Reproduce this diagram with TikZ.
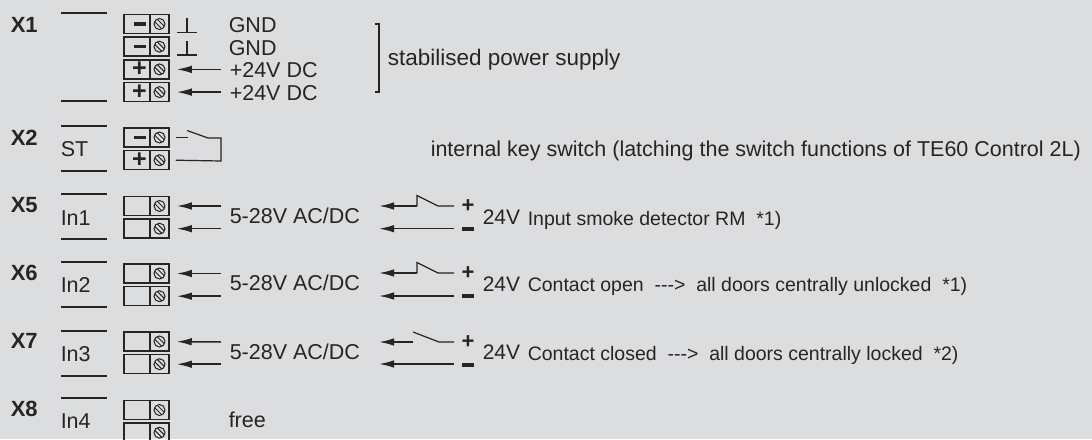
\documentclass[tikz,border=0pt]{standalone}
\usepackage{fontspec}
\setmainfont{Liberation Sans}
\usetikzlibrary{arrows.meta}
\definecolor{bg}{RGB}{220,221,223}
\definecolor{ink}{RGB}{38,36,37}

\begin{document}
\begin{tikzpicture}[x=1pt,y=-1pt,line width=1.5pt,color=ink,
  tl/.style={draw,minimum width=26pt,minimum height=19pt,inner sep=0pt,font=\fontsize{25}{25}\selectfont\bfseries},
  sc/.style={draw,minimum width=19pt,minimum height=19pt,inner sep=0pt,
    path picture={\draw[line width=1pt] (path picture bounding box.center) circle (5.5pt);
      \draw[line width=1pt] ([shift={(-2.4pt,4.9pt)}]path picture bounding box.center) -- ([shift={(4.9pt,-2.4pt)}]path picture bounding box.center)
        ([shift={(-4.9pt,2.4pt)}]path picture bounding box.center) -- ([shift={(2.4pt,-4.9pt)}]path picture bounding box.center);}},
  lab/.style={anchor=base west,inner sep=0pt,font=\fontsize{22}{22}\selectfont\bfseries},
  sig/.style={anchor=base west,inner sep=0pt,font=\fontsize{21.5}{22}\selectfont},
  txt/.style={anchor=base west,inner sep=0pt,font=\fontsize{19.5}{20}\selectfont},
  ar/.style={-{Latex[length=15pt,width=7.5pt]}}]
\fill[bg] (0,0) rectangle (1092,439);
\useasboundingbox (0,0) rectangle (1092,439);

% X1
\node[lab] (L1) at (10,32.3) {X1};
\draw (61,13) -- (107,13) (61,101) -- (107,101);
\draw (137,24) node[tl] (T11) {\hspace*{5pt}\rule{12pt}{3.5pt}} +(22.5,0) node[sc] (S11) {};
\draw (137,46.7) node[tl] (T12) {\hspace*{5pt}\rule{12pt}{3.5pt}} +(22.5,0) node[sc] (S12) {};
\draw (137,69.4) node[tl] (T13) {\hspace*{5pt}+} +(22.5,0) node[sc] (S13) {};
\draw (137,92.1) node[tl] (T14) {\hspace*{5pt}+} +(22.5,0) node[sc] (S14) {};
\draw[line width=1.2pt] (187,18.3) -- (187,32.3) (177,32.3) -- (197,32.3);
\draw[line width=1.2pt] (187,41) -- (187,55) (177,55) -- (197,55);
\coordinate (A13) at (221,69.4);
\coordinate (A14) at (221,92.1);
\draw[ar,shorten >=7pt] (A13) -- (S13);
\draw[ar,shorten >=7pt] (A14) -- (S14);
\node[sig] (G11) at (228,32.3) {GND};
\node[sig] (G12) at (228,55) {GND};
\node[sig] (G13) at (229,77.7) {+24V DC};
\node[sig] (G14) at (229,100.4) {+24V DC};
\draw[line width=1.2pt] (375,24) -- (379,24) -- (379,92) -- (375,92);
\node[txt,font=\fontsize{22.5}{23}\selectfont] (PS) at (387,65) {stabilised power supply};

% X2
\node[lab] (L2) at (10,145) {X2};
\draw (61,126) -- (107,126) (61,171) -- (107,171);
\node[sig] (ST) at (60,156.7) {ST};
\draw (137,137.5) node[tl] (T21) {\hspace*{5pt}\rule{12pt}{3.5pt}} +(22.5,0) node[sc] (S21) {};
\draw (137,160.2) node[tl] (T22) {\hspace*{5pt}+} +(22.5,0) node[sc] (S22) {};
\draw[line width=1.2pt] ([xshift=6pt]S21.east) -- ++(12,0);
\draw[line width=1.2pt] (187,130.5) -- (208,138) -- (221,138) -- (221,161) -- ([xshift=6pt]S22.east);
\node[txt,font=\fontsize{21.5}{22}\selectfont] (KS) at (430,156) {internal key switch (latching the switch functions of TE60 Control 2L)};

% X5
\node[lab] (L5) at (10,212.7) {X5};
\draw (61,194) -- (107,194) (61,239) -- (107,239);
\node[sig] (I1) at (60,225) {In1};
\draw (137,206) node[tl] (T51) {} +(22.5,0) node[sc] (S51) {};
\draw (137,228.7) node[tl] (T52) {} +(22.5,0) node[sc] (S52) {};
\coordinate (A51) at (221,206);
\coordinate (A52) at (221,228.7);
\draw[ar,shorten >=7pt] (A51) -- (S51);
\draw[ar,shorten >=7pt] (A52) -- (S52);
\node[sig] (V5) at (229,223.3) {5-28V AC/DC};
\coordinate (W51) at (454,206);
\coordinate (B51) at (417,206);
\coordinate (E51) at (379,206);
\coordinate (W52) at (454,228.7);
\coordinate (E52) at (379,228.7);
\draw[line width=1.2pt] (W51) -- (438,206) -- (417,195.5) -- (B51);
\draw[ar] (B51) -- (E51);
\draw[ar] (W52) -- (E52);
\node[inner sep=0pt,font=\fontsize{22}{22}\selectfont\bfseries] (P5) at (468,206) {+};
\node[inner sep=0pt] (M5) at (468,228.7) {\rule{12pt}{4pt}};
\node[sig,font=\fontsize{21}{22}\selectfont] (U5) at (482,224) {24V};
\node[txt] (D5) at (527,225) {Input smoke detector RM\ \ *1)};

% X6
\node[lab] (L6) at (10,280) {X6};
\draw (61,262) -- (107,262) (61,307) -- (107,307);
\node[sig] (I2) at (60,292.7) {In2};
\draw (137,273.5) node[tl] (T61) {} +(22.5,0) node[sc] (S61) {};
\draw (137,296.2) node[tl] (T62) {} +(22.5,0) node[sc] (S62) {};
\coordinate (A61) at (221,273.5);
\coordinate (A62) at (221,296.2);
\draw[ar,shorten >=7pt] (A61) -- (S61);
\draw[ar,shorten >=7pt] (A62) -- (S62);
\node[sig] (V6) at (229,290) {5-28V AC/DC};
\coordinate (W61) at (454,273);
\coordinate (B61) at (417,273);
\coordinate (E61) at (379,273);
\coordinate (W62) at (454,296);
\coordinate (E62) at (379,296);
\draw[line width=1.2pt] (W61) -- (438,273) -- (417,262.5) -- (B61);
\draw[ar] (B61) -- (E61);
\draw[ar] (W62) -- (E62);
\node[inner sep=0pt,font=\fontsize{22}{22}\selectfont\bfseries] (P6) at (468,273) {+};
\node[inner sep=0pt] (M6) at (468,296) {\rule{12pt}{4pt}};
\node[sig,font=\fontsize{21}{22}\selectfont] (U6) at (482,291) {24V};
\node[txt] (D6) at (527,291.7) {Contact open\ \ {-}{-}{-}>\ \ all doors centrally unlocked\ \ *1)};

% X7
\node[lab] (L7) at (10,348) {X7};
\draw (61,331) -- (107,331) (61,376) -- (107,376);
\node[sig] (I3) at (60,361) {In3};
\draw (137,341.5) node[tl] (T71) {} +(22.5,0) node[sc] (S71) {};
\draw (137,364.2) node[tl] (T72) {} +(22.5,0) node[sc] (S72) {};
\coordinate (A71) at (221,342);
\coordinate (A72) at (221,364.2);
\draw[ar,shorten >=7pt] (A71) -- (S71);
\draw[ar,shorten >=7pt] (A72) -- (S72);
\node[sig] (V7) at (229,359) {5-28V AC/DC};
\coordinate (W71) at (454,342);
\coordinate (B71) at (413,342);
\coordinate (E71) at (379,342);
\coordinate (W72) at (454,364);
\coordinate (E72) at (379,364);
\draw[line width=1.2pt] (W71) -- (439,342) -- (413,332);
\draw[ar] (B71) -- (E71);
\draw[ar] (W72) -- (E72);
\node[inner sep=0pt,font=\fontsize{22}{22}\selectfont\bfseries] (P7) at (468,342) {+};
\node[inner sep=0pt] (M7) at (468,364.5) {\rule{12pt}{4pt}};
\node[sig,font=\fontsize{21}{22}\selectfont] (U7) at (482,359) {24V};
\node[txt] (D7) at (527,360) {Contact closed\ \ {-}{-}{-}>\ \ all doors centrally locked\ \ *2)};

% X8
\node[lab] (L8) at (10,416) {X8};
\draw (61,398) -- (107,398);
\node[sig] (I4) at (60,428) {In4};
\draw (137,410) node[tl] (T81) {} +(22.5,0) node[sc] (S81) {};
\draw (137,432.7) node[tl] (T82) {} +(22.5,0) node[sc] (S82) {};
\node[sig] (FR) at (228,427) {free};
\end{tikzpicture}
\end{document}
